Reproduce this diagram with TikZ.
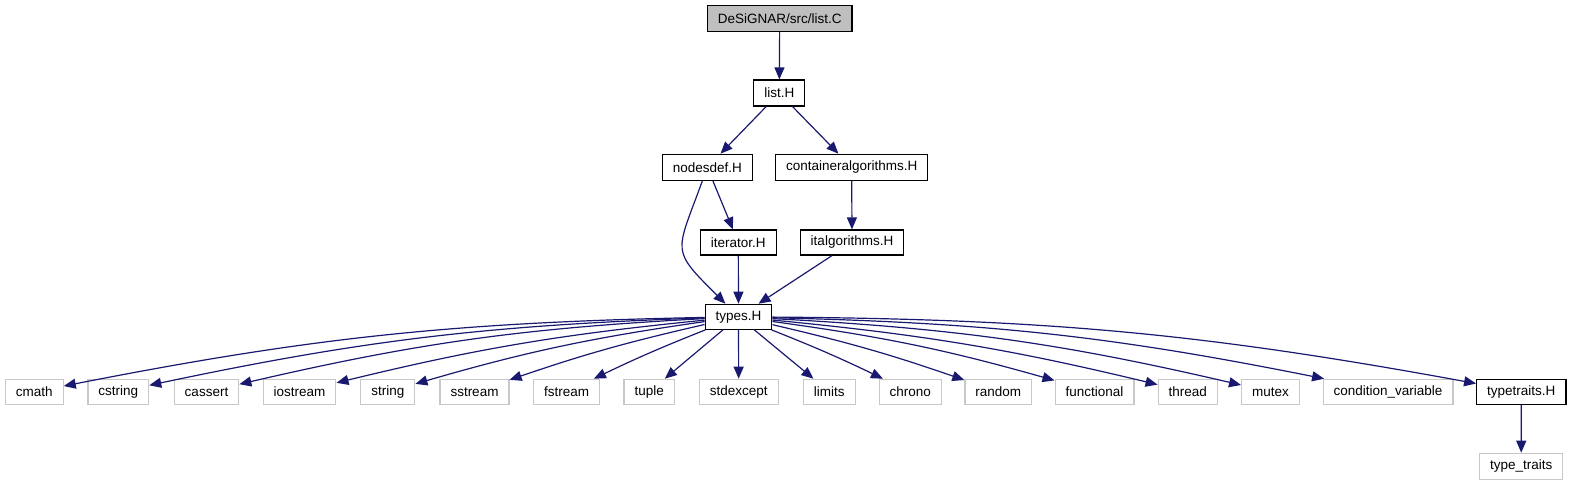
\documentclass[tikz,border=0pt]{standalone}
\usepackage{fontspec}
\setsansfont{Liberation Sans}
\usepackage{xcolor}
\usepackage{tikz}
\usetikzlibrary{arrows.meta}

\definecolor{edgeblue}{HTML}{191970}
\definecolor{sysgray}{HTML}{C8C8C8}
\definecolor{maingray}{HTML}{BFBFBF}

\begin{document}
\begin{tikzpicture}[
  x=1pt, y=1pt,
  font=\sffamily\fontsize{13.5}{15}\selectfont,
  proj/.style={draw=black, fill=white, line width=1.2pt, inner xsep=10.5pt,
               inner ysep=0pt, minimum height=25pt},
  sys/.style ={proj, draw=sysgray},
  mainfile/.style={proj, fill=maingray, minimum height=26pt},
  arr/.style ={-{Triangle[length=12pt,width=10pt]}, draw=edgeblue,
               line width=1.2pt},
]
\useasboundingbox (0,0) rectangle (1572,-485);

\node[mainfile] (listc) at (779.7,-18.5) {DeSiGNAR/src/list.C};
\node[proj, minimum height=26pt] (listh) at (779.3,-93) {list.H};
\node[proj, minimum height=26pt] (nodesdef) at (707.3,-167.3) {nodesdef.H};
\node[proj, minimum height=26pt] (contalg) at (851.7,-167.3) {containeralgorithms.H};
\node[proj] (iterator) at (738.3,-242.5) {iterator.H};
\node[proj] (italg) at (852,-242.5) {italgorithms.H};
\node[proj] (types) at (738.5,-316.8) {types.H};

% standard headers
\node[sys] (cmath) at (34.3,-391.8) {cmath};
\node[sys] (cstring) at (118.3,-391.8) {cstring};
\node[sys] (cassert) at (206.5,-391.8) {cassert};
\node[sys] (iostream) at (299.5,-391.8) {iostream};
\node[sys] (string) at (387.8,-391.8) {string};
\node[sys] (sstream) at (474.5,-391.8) {sstream};
\node[sys] (fstream) at (566.5,-391.8) {fstream};
\node[sys] (tuple) at (649.2,-391.8) {tuple};
\node[sys] (stdexcept) at (738.7,-391.8) {stdexcept};
\node[sys] (limits) at (829.3,-391.8) {limits};
\node[sys] (chrono) at (910.3,-391.8) {chrono};
\node[sys] (random) at (998.3,-391.8) {random};
\node[sys] (functional) at (1094.5,-391.8) {functional};
\node[sys] (thread) at (1187.8,-391.8) {thread};
\node[sys] (mutex) at (1270.5,-391.8) {mutex};
\node[sys] (condvar) at (1388,-391.8) {condition\_variable};
\node[proj] (typetraits) at (1521.3,-391.8) {typetraits.H};
\node[sys, minimum height=26pt] (stdtraits) at (1521.2,-466.3) {type\_traits};

\draw[arr] (listc) -- (listh);
\draw[arr] (listh) -- (nodesdef);
\draw[arr] (listh) -- (contalg);
\draw[arr] (nodesdef) to[out=-110, in=135, looseness=1.6] (types);
\draw[arr] (nodesdef) -- (iterator);
\draw[arr] (contalg) -- (italg);
\draw[arr] (iterator) -- (types);
\draw[arr] (italg) -- (types);

\draw[arr] (types) to[bend right=5] (cmath);
\draw[arr] (types) to[bend right=5] (cstring);
\draw[arr] (types) to[bend right=5] (cassert);
\draw[arr] (types) to[bend right=4] (iostream);
\draw[arr] (types) to[bend right=4] (string);
\draw[arr] (types) to[bend right=3] (sstream);
\draw[arr] (types) to[bend right=2] (fstream);
\draw[arr] (types) -- (tuple);
\draw[arr] (types) -- (stdexcept);
\draw[arr] (types) -- (limits);
\draw[arr] (types) to[bend left=2] (chrono);
\draw[arr] (types) to[bend left=3] (random);
\draw[arr] (types) to[bend left=4] (functional);
\draw[arr] (types) to[bend left=4] (thread);
\draw[arr] (types) to[bend left=5] (mutex);
\draw[arr] (types) to[bend left=5] (condvar);
\draw[arr] (types) to[bend left=5] (typetraits);
\draw[arr] (typetraits) -- (stdtraits);

\end{tikzpicture}
\end{document}
